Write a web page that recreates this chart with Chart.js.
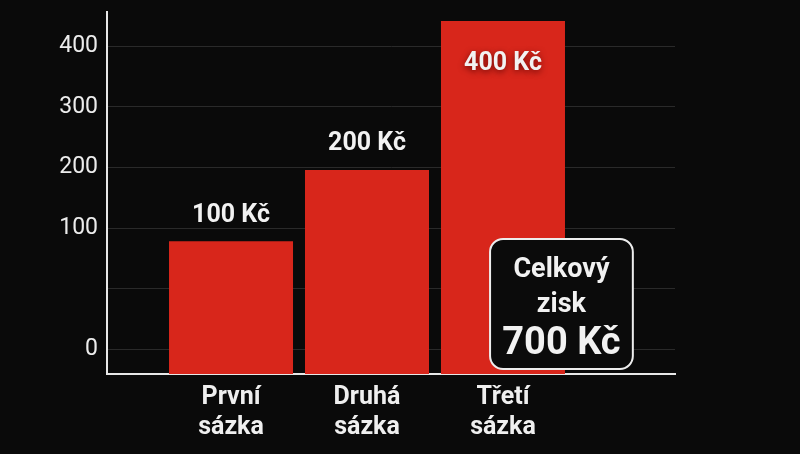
<!DOCTYPE html>
<html>
<head>
<meta charset="utf-8">
<script src="https://cdn.jsdelivr.net/npm/chart.js@4/dist/chart.umd.min.js"></script>
<style>
  html, body { margin: 0; padding: 0; background: #0a0a0a; }
  #wrap { width: 800px; height: 454px; }
</style>
</head>
<body>
<div id="wrap"><canvas id="betsChart"></canvas></div>
<script>
// categories and bar heights (measured in gridline steps of the drawn axis)
const categories = [['První', 'sázka'], ['Druhá', 'sázka'], ['Třetí', 'sázka']];
const barHeights = [1.78, 2.96, 5.42];
const valueLabels = ['100 Kč', '200 Kč', '400 Kč'];

// the axis labels as printed on the gridlines, bottom to top
const gridPositions = [0, 1, 2, 3, 4, 5];
const gridLabels = ['0', '', '100', '200', '300', '400'];

const totalLines = ['Celkový', 'zisk', '700 Kč'];

const FONT = 'Roboto, "Noto Sans", sans-serif';
const BAR_RED = '#d8261b';
const Y_MIN = -0.413;

const valueLabelPlugin = {
  id: 'valueLabels',
  afterDatasetsDraw(chart) {
    const { ctx, chartArea } = chart;
    const meta = chart.getDatasetMeta(0);
    ctx.save();
    ctx.font = 'bold 25px ' + FONT;
    ctx.textAlign = 'center';
    ctx.textBaseline = 'middle';
    meta.data.forEach((bar, i) => {
      const inside = bar.y - 45 < chartArea.top;
      ctx.fillStyle = '#f2f2f2';
      if (inside) {
        ctx.shadowColor = 'rgba(80,0,0,0.8)';
        ctx.shadowBlur = 6;
        ctx.shadowOffsetY = 2;
        ctx.fillText(valueLabels[i], bar.x, bar.y + 43);
      } else {
        ctx.shadowColor = 'transparent';
        ctx.fillText(valueLabels[i], bar.x, bar.y - 26);
      }
    });
    ctx.restore();
  }
};

const totalBoxPlugin = {
  id: 'totalBox',
  afterDraw(chart) {
    const { ctx } = chart;
    const xs = chart.scales.x, ys = chart.scales.y;
    const left = xs.getPixelForValue(1.905);
    const right = xs.getPixelForValue(2.955);
    const top = ys.getPixelForValue(1.82);
    const bottom = ys.getPixelForValue(-0.33);
    const cx = (left + right) / 2;
    ctx.save();
    ctx.beginPath();
    ctx.roundRect(left, top, right - left, bottom - top, 13);
    ctx.fillStyle = '#0b0b0b';
    ctx.fill();
    ctx.lineWidth = 2;
    ctx.strokeStyle = '#ededed';
    ctx.stroke();
    ctx.fillStyle = '#f2f2f2';
    ctx.textAlign = 'center';
    ctx.textBaseline = 'alphabetic';
    ctx.font = 'bold 27px ' + FONT;
    ctx.fillText(totalLines[0], cx, top + 38);
    ctx.fillText(totalLines[1], cx, top + 73);
    ctx.font = 'bold 38px ' + FONT;
    ctx.fillText(totalLines[2], cx, top + 115);
    ctx.restore();
  }
};

new Chart(document.getElementById('betsChart'), {
  type: 'bar',
  data: {
    datasets: [{
      data: barHeights.map((h, i) => ({ x: i, y: h })),
      base: Y_MIN,
      backgroundColor: BAR_RED,
      borderWidth: 0,
      barPercentage: 0.912,
      categoryPercentage: 1
    }]
  },
  options: {
    responsive: true,
    maintainAspectRatio: false,
    animation: false,
    layout: { padding: { top: 12, right: 125, left: 0, bottom: 0 } },
    plugins: { legend: { display: false }, tooltip: { enabled: false } },
    scales: {
      x: {
        type: 'linear',
        offset: false,
        min: -0.912,
        max: 3.265,
        afterBuildTicks: (scale) => { scale.ticks = categories.map((c, i) => ({ value: i })); },
        afterFit: (scale) => { scale.height = 80; scale.paddingLeft = 0; scale.paddingRight = 0; },
        grid: { display: false, drawTicks: false, offset: false },
        border: { display: true, color: '#e8e8e8', width: 2 },
        ticks: {
          callback: (v) => categories[v],
          color: '#efefef',
          font: { family: FONT, size: 25, weight: 'bold', lineHeight: 1.2 },
          padding: 9,
          maxRotation: 0,
          autoSkip: false
        }
      },
      y: {
        min: Y_MIN,
        max: 5.57,
        afterBuildTicks: (scale) => { scale.ticks = gridPositions.map(v => ({ value: v })); },
        afterFit: (scale) => { scale.width = 107; scale.paddingTop = 0; scale.paddingBottom = 0; },
        grid: { color: '#2a2a2a', lineWidth: 1, drawTicks: false },
        border: { display: true, color: '#e8e8e8', width: 2 },
        ticks: {
          callback: (v) => gridLabels[gridPositions.indexOf(v)],
          color: '#ececec',
          font: { family: FONT, size: 23 },
          padding: 9
        }
      }
    }
  },
  plugins: [valueLabelPlugin, totalBoxPlugin]
});
</script>
</body>
</html>
